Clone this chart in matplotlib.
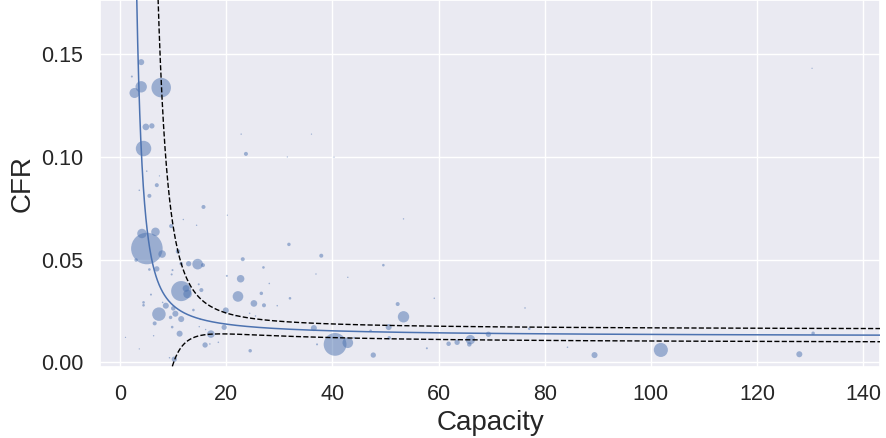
import numpy as np
import matplotlib
matplotlib.use("Agg")
import matplotlib.pyplot as plt
import seaborn as sns
from matplotlib.ticker import FormatStrFormatter

# capacity, case fatality rate and weight (marker area) of each point
capacity = [3.96, 2.2, 3.96, 2.7, 7.73, 4.84, 5.97, 4.4, 5.0, 7.4,
            23.7, 22.8, 31.5, 36.05, 40.3, 6.9, 3.6, 5.5, 9.6, 11.9,
            14.4, 4.1, 6.65, 5.03, 7.9, 10.9, 3.0, 5.5, 6.9, 9.86,
            9.7, 11.5, 12.9, 14.6, 15.6, 15.7, 20.2, 31.8, 23.1, 27.0,
            20.1, 22.7, 28.1, 22.2, 26.6, 32.0, 25.2, 27.1, 29.6, 19.9,
            21.8, 25.5, 24.4, 19.6, 17.1, 16.0, 18.5, 16.9, 24.5, 11.5,
            12.7, 12.4, 5.8, 4.4, 4.4, 7.3, 8.6, 10.0, 10.4, 11.5,
            9.5, 8.0, 6.5, 9.8, 11.2, 6.3, 1.0, 3.6, 10.2, 9.3,
            13.8, 15.1, 14.9, 16.1, 14.8, 15.3, 37.9, 36.9, 42.9, 49.6,
            53.4, 59.2, 52.3, 53.4, 76.3, 36.5, 50.6, 47.2, 44.1, 50.7,
            37.1, 40.5, 42.9, 47.7, 57.8, 61.9, 63.5, 66.0, 65.8, 69.4,
            77.1, 84.3, 89.4, 101.9, 128.0, 130.6, 130.4]
cfr = [0.146, 0.139, 0.134, 0.131, 0.1336, 0.1145, 0.115, 0.104, 0.093, 0.0907,
       0.1014, 0.111, 0.0999, 0.111, 0.0998, 0.0862, 0.0837, 0.081, 0.0663, 0.0695,
       0.0667, 0.0627, 0.0635, 0.0554, 0.0527, 0.054, 0.0498, 0.0452, 0.0455, 0.0449,
       0.0428, 0.048, 0.048, 0.0478, 0.0473, 0.0756, 0.0716, 0.0574, 0.0502, 0.0462,
       0.0421, 0.0407, 0.0384, 0.0321, 0.0336, 0.0312, 0.0287, 0.0278, 0.0276, 0.0253,
       0.0227, 0.0226, 0.0239, 0.0171, 0.0138, 0.0085, 0.0098, 0.009, 0.0057, 0.0347,
       0.0333, 0.036, 0.033, 0.0292, 0.0278, 0.0235, 0.0276, 0.0263, 0.0237, 0.0211,
       0.0219, 0.0292, 0.019, 0.0172, 0.014, 0.013, 0.0122, 0.0066, 0.0016, 0.0023,
       0.0255, 0.021, 0.0174, 0.016, 0.038, 0.0352, 0.0519, 0.043, 0.0414, 0.0473,
       0.0698, 0.0312, 0.0284, 0.0222, 0.0265, 0.0167, 0.0172, 0.0154, 0.012, 0.012,
       0.0088, 0.0088, 0.0096, 0.0036, 0.0069, 0.0091, 0.0098, 0.0111, 0.0088, 0.0137,
       0.0164, 0.0074, 0.0036, 0.0061, 0.004, 0.0142, 0.143]
weight = [9, 1, 32, 25, 94, 11, 7, 59, 0.6, 0.4,
          4, 0.5, 0.4, 0.4, 0.4, 4, 0.6, 4, 4, 0.5,
          0.5, 22, 18, 246, 14, 5, 3, 1.7, 7, 1,
          1, 3, 7, 28, 4, 4, 0.4, 3, 4, 1.7,
          1, 14, 0.6, 28, 3, 1.7, 11, 4, 0.6, 9,
          0.6, 0.6, 0.6, 7, 14, 7, 0.6, 0.6, 3, 100,
          18, 11, 1, 1.7, 1.7, 45, 9, 5, 9, 9,
          3, 0.6, 4, 1.7, 9, 0.5, 0.4, 0.4, 7, 0.6,
          1.7, 0.6, 0.5, 0.5, 1, 4, 4, 0.5, 0.5, 1.7,
          0.5, 0.6, 4, 32, 0.6, 9, 9, 1.7, 1, 3,
          1, 128, 28, 7, 1, 5, 7, 22, 5, 7,
          1.7, 0.6, 9, 49, 9, 3, 0.4]

# fitted curve cfr = a + b/x + d/x^3, band half-widths h0 + k/x^4 (upper / lower)
fit_a, fit_b, fit_d = 0.0125, 0.113, 3.9
band_h0 = 0.0032
band_k_up, band_k_lo = 350.0, 250.0

sns.set_theme(style="darkgrid")
plt.rcParams['font.family'] = ['Liberation Sans', 'DejaVu Sans']

fig = plt.figure(figsize=(8.86, 4.38), dpi=100)
ax = fig.add_axes([0.1129, 0.1621, 0.8803, 0.8379])

ax.scatter(capacity, cfr, s=np.array(weight) * 2.1, color="#4C72B0",
           alpha=0.5, linewidths=0, zorder=2)

xs = np.linspace(0.8, 145, 3000)
fit = fit_a + fit_b / xs + fit_d / xs ** 3
upper = fit + band_h0 + band_k_up / xs ** 4
lower = fit - band_h0 - band_k_lo / xs ** 4
ax.plot(xs, fit, color="#4C72B0", lw=1.1, zorder=3)
ax.plot(xs, upper, color="black", lw=1.0, ls="--", zorder=3)
ax.plot(xs, lower, color="black", lw=1.0, ls="--", zorder=3)

ax.set_xlim(-3.8, 143.2)
ax.set_ylim(-0.0022, 0.1762)
ax.set_xticks(np.arange(0, 141, 20))
ax.set_yticks([0.0, 0.05, 0.10, 0.15])
ax.yaxis.set_major_formatter(FormatStrFormatter('%.2f'))
ax.tick_params(labelsize=15.5, pad=6)
ax.set_xlabel("Capacity", fontsize=20)
ax.set_ylabel("CFR", fontsize=20)

fig.savefig("out.png", dpi=100)
